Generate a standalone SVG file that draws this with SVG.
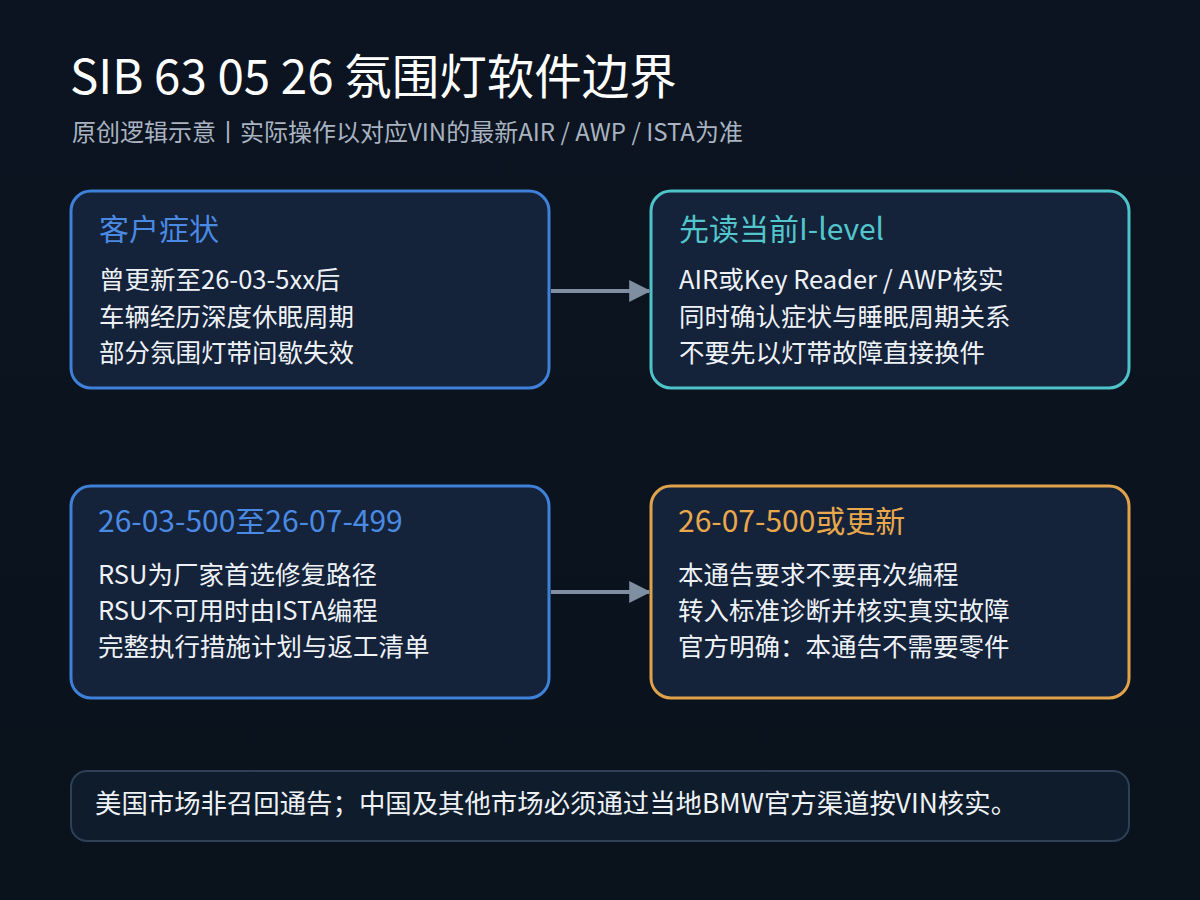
<svg xmlns="http://www.w3.org/2000/svg" width="1200" height="900" viewBox="0 0 1200 900">
<defs>
<linearGradient id="bg" x1="0" y1="0" x2="0" y2="1">
<stop offset="0" stop-color="#0b1420"/><stop offset="1" stop-color="#0a121c"/>
</linearGradient>
<marker id="ah" viewBox="0 0 10 10" refX="9" refY="5" markerWidth="5.5" markerHeight="5.5" markerUnits="strokeWidth" orient="auto">
<path d="M0,0 L10,5 L0,10 z" fill="#7f8ea0"/>
</marker>
<style>
text{font-family:"Noto Sans CJK SC","Noto Sans",sans-serif;}
.card{fill:#14223a;stroke-width:3;}
.h{font-size:30px;}
.b{font-size:25.5px;fill:#eef2f7;}
.conn{stroke:#7f8ea0;stroke-width:4;fill:none;marker-end:url(#ah);}
</style>
</defs>
<rect width="1200" height="900" fill="url(#bg)"/>
<text x="70" y="94" font-size="47.5" fill="#ffffff">SIB 63 05 26 氛围灯软件边界</text>
<text x="72" y="141" font-size="24" fill="#a9b3c1">原创逻辑示意丨实际操作以对应VIN的最新AIR / AWP / ISTA为准</text>

<g id="n1">
<rect class="card" x="71" y="191" width="478" height="197" rx="20" stroke="#3f80d8"/>
<text class="h" x="99" y="240" fill="#4a8ae2">客户症状</text>
<text class="b" x="99" y="289">曾更新至26-03-5xx后</text>
<text class="b" x="99" y="326">车辆经历深度休眠周期</text>
<text class="b" x="99" y="362">部分氛围灯带间歇失效</text>
</g>
<g id="n2">
<rect class="card" x="651" y="191" width="478" height="197" rx="20" stroke="#4ec3c9"/>
<text class="h" x="679" y="240" fill="#52c6cb">先读当前I-level</text>
<text class="b" x="679" y="289">AIR或Key Reader / AWP核实</text>
<text class="b" x="679" y="326">同时确认症状与睡眠周期关系</text>
<text class="b" x="679" y="362">不要先以灯带故障直接换件</text>
</g>
<g id="n3">
<rect class="card" x="71" y="486" width="478" height="212" rx="20" stroke="#3f80d8"/>
<text class="h" x="98" y="532" fill="#4a8ae2">26-03-500至26-07-499</text>
<text class="b" x="98" y="584">RSU为厂家首选修复路径</text>
<text class="b" x="98" y="620">RSU不可用时由ISTA编程</text>
<text class="b" x="98" y="656">完整执行措施计划与返工清单</text>
</g>
<g id="n4">
<rect class="card" x="651" y="486" width="478" height="212" rx="20" stroke="#e2a24c"/>
<text class="h" x="678" y="532" fill="#e9a84c">26-07-500或更新</text>
<text class="b" x="678" y="584">本通告要求不要再次编程</text>
<text class="b" x="678" y="620">转入标准诊断并核实真实故障</text>
<text class="b" x="678" y="656">官方明确：本通告不需要零件</text>
</g>
<g id="n5">
<rect x="71" y="771" width="1058" height="70" rx="16" fill="#0f1c2b" stroke="#2d4055" stroke-width="2"/>
<text x="95" y="813" font-size="26.4" fill="#eef2f7">美国市场非召回通告；中国及其他市场必须通过当地BMW官方渠道按VIN核实。</text>
</g>
<g id="connectors">
<line class="conn" x1="551" y1="291" x2="649" y2="291"/>
<line class="conn" x1="551" y1="592" x2="649" y2="592"/>
</g>
</svg>
